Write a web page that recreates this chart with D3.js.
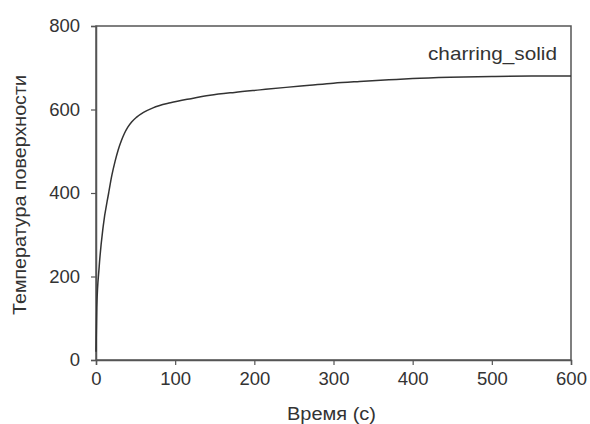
<!DOCTYPE html>
<html><head><meta charset="utf-8">
<script src="https://cdn.jsdelivr.net/npm/d3@7"></script>
<style>body{margin:0;background:#fff;} text{font-family:Arial,"Liberation Sans",sans-serif;}</style>
</head><body>
<svg id="c" width="590" height="424"></svg>
<script>
const times = [0, 1, 4, 9, 16, 20, 24, 28, 32, 36, 40, 45, 51, 60, 72, 94, 120, 144, 175, 207, 240, 270, 300, 333, 370, 400, 447, 500, 550, 600];
const temps = [20, 127, 223, 319, 400, 442, 475, 503, 525, 543, 557, 570, 581, 593, 604, 616, 626, 634, 641, 647, 653, 658, 663, 667, 671, 674, 677, 679, 680, 680];
const xTicks = [0, 100, 200, 300, 400, 500, 600];
const yTicks = [0, 200, 400, 600, 800];
const seriesName = "charring_solid";
const xTitle = "Время (с)";
const yTitle = "Температура поверхности";

const svg = d3.select("#c");
const L = 96, R = 571, T = 26, B = 360;
const x = d3.scaleLinear().domain([0, 600]).range([L, R]);
const y = d3.scaleLinear().domain([0, 800]).range([B, T]);
const axisColor = "#555", textColor = "#333";

svg.append("rect").attr("x", L).attr("y", T).attr("width", R - L).attr("height", B - T)
  .attr("fill", "none").attr("stroke", axisColor).attr("stroke-width", 1.5);

const xa = svg.append("g").attr("transform", `translate(0,${B})`)
  .call(d3.axisBottom(x).tickValues(xTicks).tickSize(5).tickPadding(7));
const ya = svg.append("g").attr("transform", `translate(${L},0)`)
  .call(d3.axisLeft(y).tickValues(yTicks).tickSize(5).tickPadding(11));
[xa, ya].forEach(g => {
  g.select(".domain").attr("stroke", axisColor).attr("stroke-width", 1.5);
  g.selectAll(".tick line").attr("stroke", axisColor).attr("stroke-width", 1.2);
  g.selectAll(".tick text").attr("fill", textColor).style("font-size", "18.5px")
    .style("font-family", "Arial, 'Liberation Sans', sans-serif");
});

const line = d3.line().x((d, i) => x(times[i])).y(d => y(d)).curve(d3.curveMonotoneX);
svg.append("path").datum(temps).attr("d", line).attr("fill", "none")
  .attr("stroke", "#333").attr("stroke-width", 1.5);

svg.append("text").attr("x", 428).attr("y", 60)
  .attr("textLength", 129).attr("lengthAdjust", "spacingAndGlyphs")
  .attr("fill", textColor).style("font-size", "18.5px").text(seriesName);

svg.append("text").attr("x", 287).attr("y", 420)
  .attr("textLength", 89).attr("lengthAdjust", "spacingAndGlyphs")
  .attr("fill", textColor).style("font-size", "18px").text(xTitle);

svg.append("text").attr("transform", `translate(26,315) rotate(-90)`)
  .attr("textLength", 240).attr("lengthAdjust", "spacingAndGlyphs")
  .attr("fill", textColor).style("font-size", "18px").text(yTitle);
</script>
</body></html>
